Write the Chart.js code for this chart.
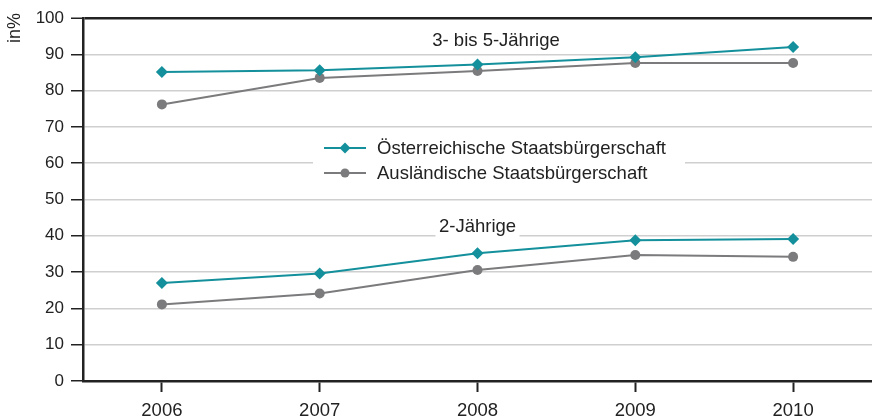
<!DOCTYPE html>
<html>
<head>
<meta charset="utf-8">
<script src="https://cdn.jsdelivr.net/npm/chart.js@4"></script>
<style>
  html, body { margin: 0; padding: 0; background: #fff; overflow: hidden; }
  canvas { display: block; }
</style>
</head>
<body>
<canvas id="chart" width="872" height="419"></canvas>
<script>
const years = ['2006', '2007', '2008', '2009', '2010'];
const yTicks = [0, 10, 20, 30, 40, 50, 60, 70, 80, 90, 100];

// 3- bis 5-Jährige
const austrian35 = [85.1, 85.6, 87.2, 89.2, 92.0];
const foreign35 = [76.2, 83.5, 85.4, 87.6, 87.6];
// 2-Jährige
const austrian2 = [27.0, 29.6, 35.2, 38.8, 39.1];
const foreign2 = [21.1, 24.1, 30.6, 34.7, 34.2];

const seriesNames = ['Österreichische Staatsbürgerschaft', 'Ausländische Staatsbürgerschaft'];
const groupLabels = ['3- bis 5-Jährige', '2-Jährige'];

const TEAL = '#13909b';
const GREY = '#7b7b7d';
const FONT = '"Liberation Sans", Arial, sans-serif';

function lineSet(data, color, diamond) {
    return {
        data: data,
        borderColor: color,
        backgroundColor: color,
        borderWidth: 2,
        pointStyle: diamond ? 'rectRot' : 'circle',
        pointRadius: diamond ? 6 : 5,
        pointBorderWidth: 0,
        tension: 0
    };
}

// legend box, group labels and axis title drawn on top of the plot
const overlay = {
    id: 'overlay',
    afterDatasetsDraw(chart) {
        const ctx = chart.ctx;
        const x = chart.scales.x;
        ctx.save();
        ctx.font = '18.5px ' + FONT;
        ctx.textBaseline = 'middle';

        // group labels
        ctx.textAlign = 'center';
        ctx.fillStyle = '#222';
        ctx.fillText(groupLabels[0], 496, 41);
        const lx = x.getPixelForValue(2);
        const ly = 227;
        ctx.fillStyle = '#fff';
        ctx.fillRect(lx - 42, ly - 12, 84, 24);
        ctx.fillStyle = '#222';
        ctx.fillText(groupLabels[1], lx, ly);

        // legend
        const bx = 313, by = 132;
        ctx.fillStyle = '#fff';
        ctx.fillRect(bx, by, 372, 56);
        const rows = [[TEAL, true, 148], [GREY, false, 173]];
        rows.forEach((r, i) => {
            ctx.strokeStyle = r[0];
            ctx.fillStyle = r[0];
            ctx.lineWidth = 2;
            ctx.beginPath();
            ctx.moveTo(324, r[2]);
            ctx.lineTo(366, r[2]);
            ctx.stroke();
            ctx.beginPath();
            if (r[1]) {
                ctx.moveTo(345, r[2] - 5.5);
                ctx.lineTo(350.5, r[2]);
                ctx.lineTo(345, r[2] + 5.5);
                ctx.lineTo(339.5, r[2]);
                ctx.closePath();
            } else {
                ctx.arc(345, r[2], 4.5, 0, Math.PI * 2);
            }
            ctx.fill();
            ctx.fillStyle = '#222';
            ctx.textAlign = 'left';
            ctx.fillText(seriesNames[i], 377, r[2] + 1);
        });

        // axis title
        ctx.translate(15, 28);
        ctx.rotate(-Math.PI / 2);
        ctx.textAlign = 'center';
        ctx.fillStyle = '#222';
        ctx.font = '18px ' + FONT;
        ctx.fillText('in%', 0, 0);
        ctx.restore();
    }
};

new Chart(document.getElementById('chart'), {
    type: 'line',
    data: {
        labels: years,
        datasets: [
            lineSet(austrian35, TEAL, true),
            lineSet(foreign35, GREY, false),
            lineSet(austrian2, TEAL, true),
            lineSet(foreign2, GREY, false)
        ]
    },
    options: {
        responsive: false,
        animation: false,
        layout: { autoPadding: false, padding: { top: 18, right: -5, left: 0, bottom: 0 } },
        scales: {
            x: {
                offset: true,
                afterFit: s => { s.height = 38; s.paddingLeft = 0; s.paddingRight = 0; },
                grid: { drawOnChartArea: false, drawTicks: true, tickLength: 11, tickColor: '#222', tickWidth: 2, offset: false },
                border: { color: '#222', width: 2.5 },
                ticks: { color: '#222', font: { family: FONT, size: 18.5 }, padding: 8 }
            },
            y: {
                min: 0,
                max: 100,
                afterFit: s => { s.width = 83; },
                afterBuildTicks: s => { s.ticks = yTicks.map(v => ({ value: v })); },
                grid: {
                    color: c => c.tick && c.tick.value === 100 ? '#222' : '#cfcfcf',
                    lineWidth: c => c.tick && c.tick.value === 100 ? 2.5 : 1.5,
                    tickLength: 12,
                    tickColor: '#222',
                    tickWidth: 1.5
                },
                border: { color: '#222', width: 2.5 },
                ticks: { color: '#222', font: { family: FONT, size: 17 }, padding: 7 }
            }
        },
        plugins: {
            legend: { display: false },
            tooltip: { enabled: false }
        }
    },
    plugins: [overlay]
});
</script>
</body>
</html>
